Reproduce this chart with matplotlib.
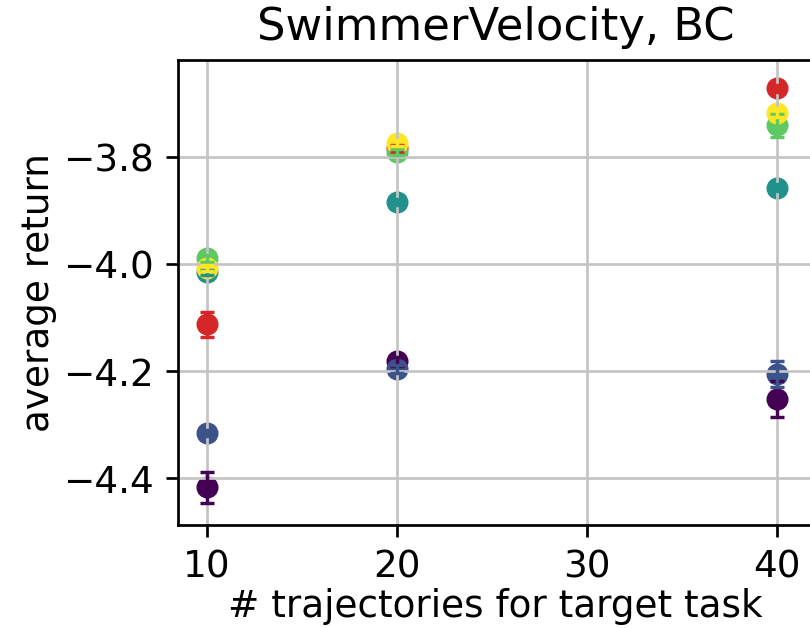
import numpy as np
import matplotlib
matplotlib.use('Agg')
import matplotlib.pyplot as plt

# number of target-task trajectories
n_traj = [10, 20, 40]

# series in drawing order (red first, then viridis shades)
series_names = ['red', 'purple', 'blue', 'teal', 'green', 'yellow']
series_colors = ['#d62728', '#440154', '#3b528b', '#21918c', '#5ec962', '#fde725']

red_mean = [-4.113, -3.785, -3.673]
red_err = [0.023, 0.006, 0.006]
purple_mean = [-4.417, -4.182, -4.252]
purple_err = [0.029, 0.008, 0.033]
blue_mean = [-4.315, -4.196, -4.205]
blue_err = [0.006, 0.008, 0.024]
teal_mean = [-4.016, -3.885, -3.858]
teal_err = [0.005, 0.005, 0.006]
green_mean = [-3.990, -3.792, -3.742]
green_err = [0.006, 0.006, 0.022]
yellow_mean = [-4.008, -3.775, -3.718]
yellow_err = [0.006, 0.006, 0.008]

means = [red_mean, purple_mean, blue_mean, teal_mean, green_mean, yellow_mean]
errs = [red_err, purple_err, blue_err, teal_err, green_err, yellow_err]

plt.rcParams['font.size'] = 11
plt.rcParams['grid.color'] = '#c4c4c4'

DPI = 245
fig = plt.figure(figsize=(810 / DPI, 628 / DPI), dpi=DPI)
ax = fig.add_axes([178 / 810, 0.164, 0.7835, 0.7405])

# markers first (below the grid), error bars drawn on top
for m, c in zip(means, series_colors):
    ax.scatter(n_traj, m, color=c, s=30, zorder=1)
for m, e, c in zip(means, errs, series_colors):
    ax.errorbar(n_traj, m, yerr=e, fmt='none', ecolor=c, elinewidth=1,
                capsize=2, capthick=1, zorder=2)

ax.grid(True)
ax.set_xlim(8.5, 41.9)
ax.set_ylim(-4.487, -3.62)
ax.set_xticks([10, 20, 30, 40])
ax.set_yticks([-4.4, -4.2, -4.0, -3.8])
ax.set_xlabel('# trajectories for target task', labelpad=0.5)
ax.set_ylabel('average return', labelpad=2)
ax.set_title('SwimmerVelocity, BC')

fig.savefig('out.png', dpi=DPI)
